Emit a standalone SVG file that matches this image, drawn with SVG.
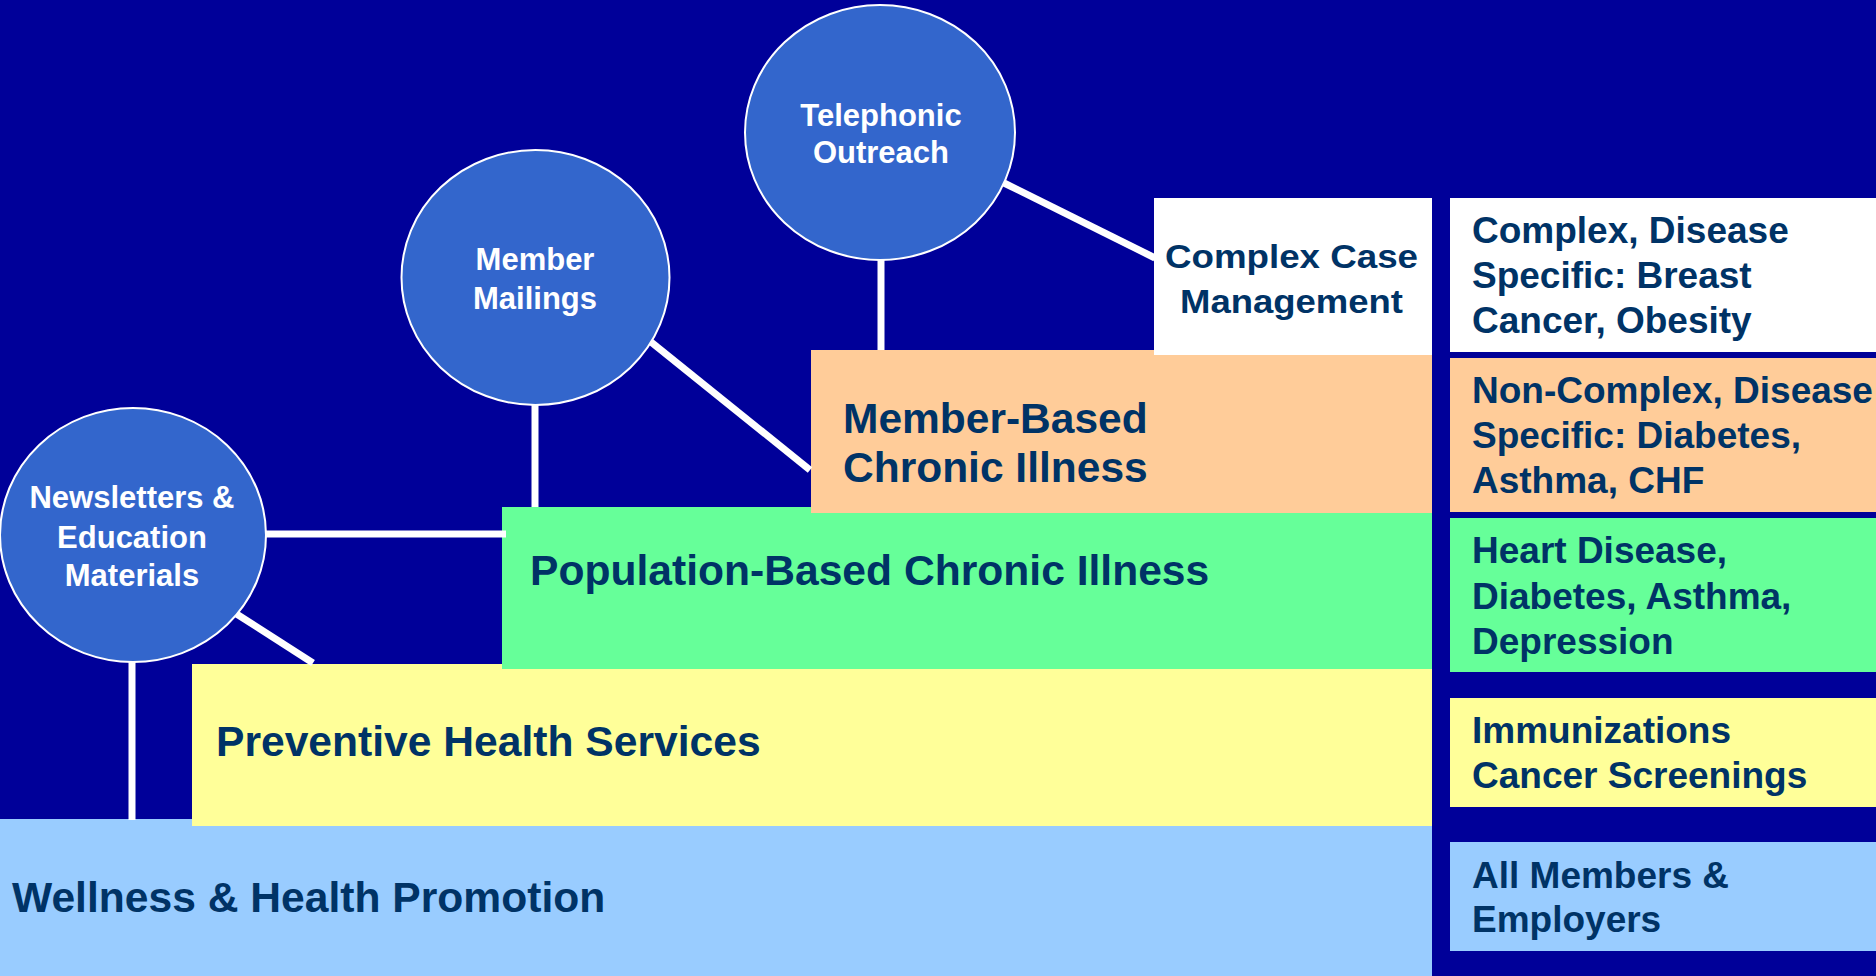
<svg xmlns="http://www.w3.org/2000/svg" width="1876" height="976" viewBox="0 0 1876 976">
<style>
.lbl{font-family:"Liberation Sans",Arial,sans-serif;font-weight:bold;fill:#003366}
.big{font-size:42.6px}
.side{font-size:37px}
.ctext{font-family:"Liberation Sans",Arial,sans-serif;font-weight:bold;fill:#ffffff;font-size:31px;text-anchor:middle}
.circ{fill:#3366CC;stroke:#ffffff;stroke-width:2}
.conn line{stroke:#ffffff;stroke-width:7}
</style>
<rect x="0" y="0" width="1876" height="976" fill="#000099"/>
<g id="tier-wellness">
<rect x="0" y="819" width="1432" height="157" fill="#99CCFF"/>
<text class="lbl big" x="12" y="912">Wellness &amp; Health Promotion</text>
</g>
<g id="tier-preventive">
<rect x="192" y="664" width="1240" height="162" fill="#FFFF99"/>
<text class="lbl big" x="216" y="756">Preventive Health Services</text>
</g>
<g id="tier-population">
<rect x="502" y="507" width="930" height="162" fill="#66FF99"/>
<text class="lbl big" x="530" y="585">Population-Based Chronic Illness</text>
</g>
<g id="tier-member">
<rect x="811" y="350" width="621" height="163" fill="#FFCC99"/>
<text class="lbl" font-size="42.5" x="843" y="433">Member-Based</text>
<text class="lbl" font-size="42.5" x="843" y="482">Chronic Illness</text>
</g>
<g id="tier-complex">
<rect x="1154" y="198" width="278" height="157" fill="#ffffff"/>
<text class="lbl" font-size="34" x="1165" y="268" textLength="253" lengthAdjust="spacingAndGlyphs">Complex Case</text>
<text class="lbl" font-size="34" x="1180" y="313" textLength="223" lengthAdjust="spacingAndGlyphs">Management</text>
</g>
<g id="side-complex">
<rect x="1450" y="198" width="426" height="154" fill="#ffffff"/>
<text class="lbl side" x="1472" y="243">Complex, Disease</text>
<text class="lbl side" x="1472" y="288">Specific: Breast</text>
<text class="lbl side" x="1472" y="333">Cancer, Obesity</text>
</g>
<g id="side-noncomplex">
<rect x="1450" y="358" width="426" height="154" fill="#FFCC99"/>
<text class="lbl side" x="1472" y="403">Non-Complex, Disease</text>
<text class="lbl side" x="1472" y="448">Specific: Diabetes,</text>
<text class="lbl side" x="1472" y="493">Asthma, CHF</text>
</g>
<g id="side-population">
<rect x="1450" y="518" width="426" height="154" fill="#66FF99"/>
<text class="lbl side" x="1472" y="563">Heart Disease,</text>
<text class="lbl side" x="1472" y="609">Diabetes, Asthma,</text>
<text class="lbl side" x="1472" y="654">Depression</text>
</g>
<g id="side-preventive">
<rect x="1450" y="698" width="426" height="109" fill="#FFFF99"/>
<text class="lbl side" x="1472" y="743">Immunizations</text>
<text class="lbl side" x="1472" y="788">Cancer Screenings</text>
</g>
<g id="side-wellness">
<rect x="1450" y="842" width="426" height="109" fill="#99CCFF"/>
<text class="lbl side" x="1472" y="888">All Members &amp;</text>
<text class="lbl side" x="1472" y="932">Employers</text>
</g>
<g id="connectors" class="conn">
<line x1="266" y1="534" x2="506" y2="534"/>
<line x1="235" y1="613" x2="313" y2="663"/>
<line x1="132" y1="662" x2="132" y2="820"/>
<line x1="535" y1="404" x2="535" y2="507"/>
<line x1="651" y1="342" x2="810" y2="470"/>
<line x1="881" y1="259" x2="881" y2="350"/>
<line x1="1004" y1="183" x2="1155" y2="258"/>
</g>
<g id="circle-newsletters">
<ellipse class="circ" cx="133" cy="535" rx="133" ry="127"/>
<text class="ctext" x="132" y="508">Newsletters &amp;</text>
<text class="ctext" x="132" y="548">Education</text>
<text class="ctext" x="132" y="586">Materials</text>
</g>
<g id="circle-mailings">
<ellipse class="circ" cx="535.5" cy="277.5" rx="134" ry="127.5"/>
<text class="ctext" x="535" y="270">Member</text>
<text class="ctext" x="535" y="309">Mailings</text>
</g>
<g id="circle-telephonic">
<ellipse class="circ" cx="880" cy="132.5" rx="135" ry="127.5"/>
<text class="ctext" x="881" y="126">Telephonic</text>
<text class="ctext" x="881" y="163">Outreach</text>
</g>
</svg>
